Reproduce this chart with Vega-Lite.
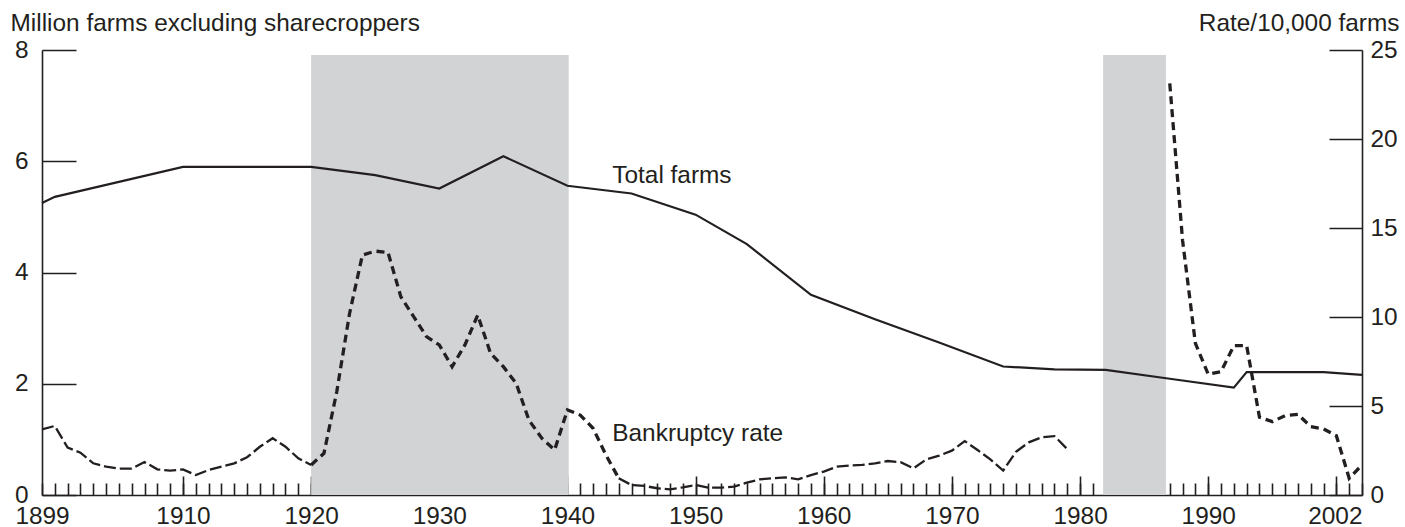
{
  "$schema": "https://vega.github.io/schema/vega-lite/v6.json",
  "width": 1320,
  "height": 445,
  "padding": {"left": 42, "top": 50, "right": 43, "bottom": 32},
  "autosize": {"type": "none"},
  "config": {
    "view": {"stroke": null},
    "font": "Liberation Sans",
    "axis": {
      "domainColor": "#231f20", "tickColor": "#231f20", "labelColor": "#231f20", "titleColor": "#231f20",
      "labelFont": "Liberation Sans", "titleFont": "Liberation Sans",
      "labelFontSize": 24.4, "titleFontSize": 24.4, "titleFontWeight": "normal",
      "grid": false, "domainWidth": 1.6, "tickWidth": 1.6, "zindex": 1,
      "labelFlush": false, "labelBound": false, "labelOverlap": false
    }
  },
  "datasets": {
    "shade": [{"start": 1920, "end": 1940.1}, {"start": 1981.8, "end": 1986.7}],
    "farms": [
      {"year": 1899, "farms": 5.25}, {"year": 1900, "farms": 5.36}, {"year": 1910, "farms": 5.9},
      {"year": 1920, "farms": 5.9}, {"year": 1925, "farms": 5.75}, {"year": 1930, "farms": 5.51},
      {"year": 1935, "farms": 6.09}, {"year": 1940, "farms": 5.56}, {"year": 1945, "farms": 5.42},
      {"year": 1950, "farms": 5.04}, {"year": 1954, "farms": 4.51}, {"year": 1959, "farms": 3.6},
      {"year": 1964, "farms": 3.16}, {"year": 1969, "farms": 2.74}, {"year": 1974, "farms": 2.31},
      {"year": 1978, "farms": 2.26}, {"year": 1982, "farms": 2.25}, {"year": 1987, "farms": 2.09},
      {"year": 1992, "farms": 1.93}, {"year": 1993, "farms": 2.21}, {"year": 1999, "farms": 2.21},
      {"year": 2002, "farms": 2.16}
    ],
    "rate": [
      {"year": 1899, "rate": 3.69}, {"year": 1900, "rate": 3.88}, {"year": 1901, "rate": 2.66},
      {"year": 1902, "rate": 2.38}, {"year": 1903, "rate": 1.78}, {"year": 1904, "rate": 1.59},
      {"year": 1905, "rate": 1.48}, {"year": 1906, "rate": 1.48}, {"year": 1907, "rate": 1.85},
      {"year": 1908, "rate": 1.44}, {"year": 1909, "rate": 1.37}, {"year": 1910, "rate": 1.44},
      {"year": 1911, "rate": 1.12}, {"year": 1912, "rate": 1.4}, {"year": 1913, "rate": 1.59},
      {"year": 1914, "rate": 1.78}, {"year": 1915, "rate": 2.12}, {"year": 1916, "rate": 2.71},
      {"year": 1917, "rate": 3.19}, {"year": 1918, "rate": 2.71}, {"year": 1919, "rate": 2.06},
      {"year": 1920, "rate": 1.69}, {"year": 1921, "rate": 2.34}, {"year": 1922, "rate": 5.8},
      {"year": 1923, "rate": 10.2}, {"year": 1924, "rate": 13.48}, {"year": 1925, "rate": 13.7},
      {"year": 1926, "rate": 13.63}, {"year": 1927, "rate": 11.14}, {"year": 1928, "rate": 10.02},
      {"year": 1929, "rate": 8.9}, {"year": 1930, "rate": 8.43}, {"year": 1931, "rate": 7.21},
      {"year": 1932, "rate": 8.43}, {"year": 1933, "rate": 10.11}, {"year": 1934, "rate": 7.96},
      {"year": 1935, "rate": 7.21}, {"year": 1936, "rate": 6.27}, {"year": 1937, "rate": 4.2},
      {"year": 1938, "rate": 3.19}, {"year": 1939, "rate": 2.53}, {"year": 1940, "rate": 4.78},
      {"year": 1941, "rate": 4.49}, {"year": 1942, "rate": 3.75}, {"year": 1943, "rate": 2.25},
      {"year": 1944, "rate": 0.94}, {"year": 1945, "rate": 0.56}, {"year": 1946, "rate": 0.51},
      {"year": 1947, "rate": 0.38}, {"year": 1948, "rate": 0.32}, {"year": 1949, "rate": 0.43},
      {"year": 1950, "rate": 0.56}, {"year": 1951, "rate": 0.41}, {"year": 1952, "rate": 0.41},
      {"year": 1953, "rate": 0.47}, {"year": 1954, "rate": 0.69}, {"year": 1955, "rate": 0.88},
      {"year": 1956, "rate": 0.94}, {"year": 1957, "rate": 0.99}, {"year": 1958, "rate": 0.88},
      {"year": 1959, "rate": 1.12}, {"year": 1960, "rate": 1.31}, {"year": 1961, "rate": 1.59},
      {"year": 1962, "rate": 1.65}, {"year": 1963, "rate": 1.69}, {"year": 1964, "rate": 1.78},
      {"year": 1965, "rate": 1.91}, {"year": 1966, "rate": 1.84}, {"year": 1967, "rate": 1.5},
      {"year": 1968, "rate": 2.0}, {"year": 1969, "rate": 2.21}, {"year": 1970, "rate": 2.49},
      {"year": 1971, "rate": 3.03}, {"year": 1972, "rate": 2.53}, {"year": 1973, "rate": 2.0},
      {"year": 1974, "rate": 1.37}, {"year": 1975, "rate": 2.43}, {"year": 1976, "rate": 2.96},
      {"year": 1977, "rate": 3.24}, {"year": 1978, "rate": 3.31}, {"year": 1979, "rate": 2.58},
      {"year": 1987, "rate": 23.13}, {"year": 1988, "rate": 14.3}, {"year": 1989, "rate": 8.52},
      {"year": 1990, "rate": 6.78}, {"year": 1991, "rate": 6.93}, {"year": 1992, "rate": 8.39},
      {"year": 1993, "rate": 8.39}, {"year": 1994, "rate": 4.37}, {"year": 1995, "rate": 4.12},
      {"year": 1996, "rate": 4.46}, {"year": 1997, "rate": 4.53}, {"year": 1998, "rate": 3.84},
      {"year": 1999, "rate": 3.71}, {"year": 2000, "rate": 3.33}, {"year": 2001, "rate": 0.94},
      {"year": 2002, "rate": 1.69}
    ],
    "labels": [
      {"text": "Total farms", "year": 1943.5, "y": 5.61},
      {"text": "Bankruptcy rate", "year": 1943.5, "y": 0.97}
    ]
  },
  "layer": [
    {
      "data": {"name": "shade"},
      "mark": {"type": "rect", "color": "#d1d3d4"},
      "encoding": {
        "x": {"field": "start", "type": "quantitative", "scale": {"domain": [1899, 2002], "nice": false, "zero": false},
          "axis": {"orient": "bottom", "values": [1899,1900,1901,1902,1903,1904,1905,1906,1907,1908,1909,1910,1911,1912,1913,1914,1915,1916,1917,1918,1919,1920,1921,1922,1923,1924,1925,1926,1927,1928,1929,1930,1931,1932,1933,1934,1935,1936,1937,1938,1939,1940,1941,1942,1943,1944,1945,1946,1947,1948,1949,1950,1951,1952,1953,1954,1955,1956,1957,1958,1959,1960,1961,1962,1963,1964,1965,1966,1967,1968,1969,1970,1971,1972,1973,1974,1975,1976,1977,1978,1979,1980,1981,1982,1983,1984,1985,1986,1987,1988,1989,1990,1991,1992,1993,1994,1995,1996,1997,1998,1999,2000,2001,2002],
            "tickSize": -12, "labels": false, "domain": false, "title": null}},
        "x2": {"field": "end"},
        "y": {"datum": 0, "type": "quantitative", "scale": {"domain": [0, 8], "nice": false}, "axis": null},
        "y2": {"datum": 7.91}
      }
    },
    {
      "data": {"name": "farms"},
      "mark": {"type": "line", "color": "#231f20", "strokeWidth": 2.2},
      "encoding": {
        "x": {"field": "year", "type": "quantitative", "scale": {"domain": [1899, 2002], "nice": false, "zero": false},
          "axis": {"orient": "bottom", "values": [1910,1920,1930,1940,1950,1960,1970,1980,1990,2000], "tickSize": -19, "labels": false, "domain": false, "title": null}},
        "y": {"field": "farms", "type": "quantitative", "scale": {"domain": [0, 8], "nice": false},
          "axis": {"orient": "left", "values": [0,2,4,6,8], "tickSize": -34, "labelPadding": 48,
            "title": "Million farms excluding sharecroppers", "titleAngle": 0, "titleAlign": "left", "titleBaseline": "alphabetic", "titleX": -32, "titleY": -20}}
      }
    },
    {
      "data": {"name": "rate"},
      "transform": [{"filter": "datum.year <= 1920"}],
      "mark": {"type": "line", "color": "#231f20", "strokeWidth": 2.3, "strokeDash": [12, 4]},
      "encoding": {
        "x": {"field": "year", "type": "quantitative", "scale": {"domain": [1899, 2002], "nice": false, "zero": false},
          "axis": {"orient": "bottom", "values": [1899,1910,1920,1930,1940,1950,1960,1970,1980,1990,2002], "ticks": false, "domain": true, "labelPadding": 9, "format": "d", "title": null,
            "labelAlign": {"condition": {"test": "datum.value == 2002", "value": "right"}, "value": "center"}}},
        "y": {"field": "rate", "type": "quantitative", "scale": {"domain": [0, 25], "nice": false},
          "axis": {"orient": "right", "values": [0,5,10,15,20,25], "tickSize": -33, "labelPadding": 41,
            "title": "Rate/10,000 farms", "titleAngle": 0, "titleAlign": "right", "titleBaseline": "alphabetic", "titleX": 37, "titleY": -20}}
      }
    },
    {
      "data": {"name": "rate"},
      "transform": [{"filter": "datum.year >= 1920 && datum.year <= 1944"}],
      "mark": {"type": "line", "color": "#231f20", "strokeWidth": 3.3, "strokeDash": [8, 5]},
      "encoding": {
        "x": {"field": "year", "type": "quantitative", "scale": {"domain": [1899, 2002], "nice": false, "zero": false}, "axis": null},
        "y": {"field": "rate", "type": "quantitative", "scale": {"domain": [0, 25], "nice": false}, "axis": null}
      }
    },
    {
      "data": {"name": "rate"},
      "transform": [{"filter": "datum.year >= 1944 && datum.year <= 1979"}],
      "mark": {"type": "line", "color": "#231f20", "strokeWidth": 2.3, "strokeDash": [12, 4]},
      "encoding": {
        "x": {"field": "year", "type": "quantitative", "scale": {"domain": [1899, 2002], "nice": false, "zero": false}, "axis": null},
        "y": {"field": "rate", "type": "quantitative", "scale": {"domain": [0, 25], "nice": false}, "axis": null}
      }
    },
    {
      "data": {"name": "rate"},
      "transform": [{"filter": "datum.year >= 1987"}],
      "mark": {"type": "line", "color": "#231f20", "strokeWidth": 3.3, "strokeDash": [8, 5]},
      "encoding": {
        "x": {"field": "year", "type": "quantitative", "scale": {"domain": [1899, 2002], "nice": false, "zero": false}, "axis": null},
        "y": {"field": "rate", "type": "quantitative", "scale": {"domain": [0, 25], "nice": false}, "axis": null}
      }
    },
    {
      "data": {"name": "labels"},
      "mark": {"type": "text", "align": "left", "baseline": "alphabetic", "fontSize": 24.4, "color": "#231f20", "font": "Liberation Sans"},
      "encoding": {
        "x": {"field": "year", "type": "quantitative", "scale": {"domain": [1899, 2002], "nice": false, "zero": false}, "axis": null},
        "y": {"field": "y", "type": "quantitative", "scale": {"domain": [0, 8], "nice": false}, "axis": null},
        "text": {"field": "text"}
      }
    }
  ],
  "resolve": {"scale": {"y": "independent"}, "axis": {"x": "independent", "y": "independent"}}
}
